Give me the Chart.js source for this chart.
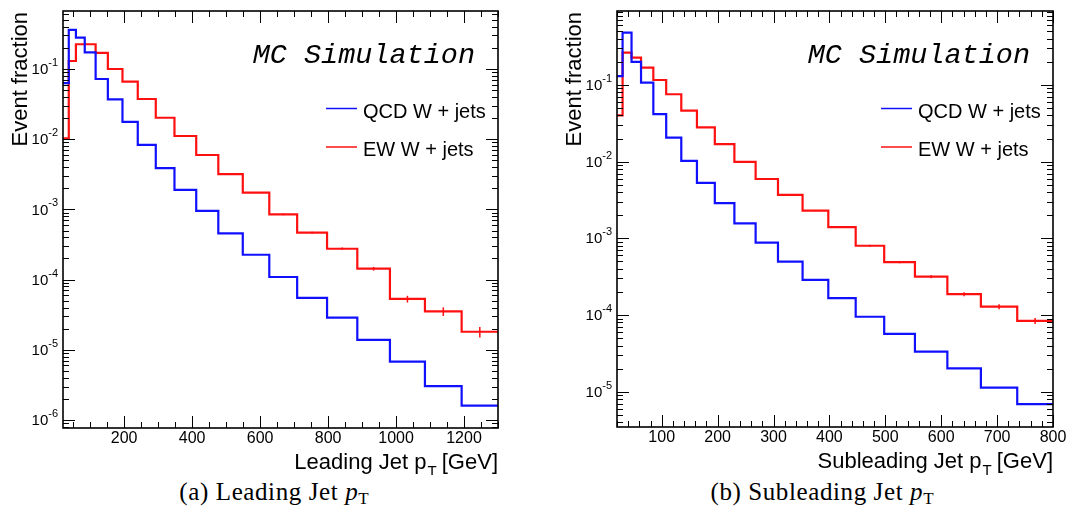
<!DOCTYPE html>
<html>
<head>
<meta charset="utf-8">
<script src="https://cdn.jsdelivr.net/npm/chart.js@4.4.1/dist/chart.umd.min.js"></script>
<style>
  body { margin: 0; background: #fff; }
  #page { position: relative; width: 1068px; height: 523px; overflow: hidden; }
  .panel { position: absolute; top: 0; }
  .caption { position: absolute; top: 478px; width: 400px; text-align: center;
             font-family: "Liberation Serif", "Times New Roman", serif; font-size: 25px;
             letter-spacing: 0.6px; color: #000; }
  .caption sub { font-size: 17px; vertical-align: -4px; letter-spacing: 0; }
</style>
</head>
<body>
<div id="page">
  <canvas id="leadChart" class="panel" style="left:0" width="534" height="475"></canvas>
  <canvas id="subChart" class="panel" style="left:534px" width="534" height="475"></canvas>
  <div class="caption" style="left:74px">(a) Leading Jet <i>p</i><sub>T</sub></div>
  <div class="caption" style="left:622px">(b) Subleading Jet <i>p</i><sub>T</sub></div>
</div>
<script>
// Leading jet pT: bin edges [GeV] and event fractions per bin
const leadEdges = [20, 37, 58, 84, 116, 152, 195, 240, 293, 348, 412, 477, 549, 627, 709, 797, 886, 982, 1085, 1193, 1300];
const leadQCD = [0.063, 0.36, 0.28, 0.173, 0.072, 0.037, 0.0176, 0.0083, 0.00388, 0.0019, 0.00095, 0.000456, 0.000226, 0.000109, 5.5e-5, 2.87e-5, 1.39e-5, 6.8e-6, 3.05e-6, 1.6e-6];
const leadEW = [0.0103, 0.13, 0.225, 0.225, 0.17, 0.1, 0.066, 0.0374, 0.0202, 0.0111, 0.00596, 0.00319, 0.00173, 0.00085, 0.000466, 0.000275, 0.000143, 5.3e-5, 3.53e-5, 1.81e-5];
const leadEWErr = [0, 0, 0, 0, 0, 0, 0, 0, 0, 0, 0.01, 0.015, 0.02, 0.03, 0.035, 0.04, 0.06, 0.11, 0.14, 0.17];
const leadTicks = [200, 400, 600, 800, 1000, 1200];

// Subleading jet pT
const subEdges = [20, 30, 46, 63, 85, 108, 135, 163, 195, 230, 268, 308, 352, 398, 447, 498, 553, 611, 671, 736, 800];
const subQCD = [0.13, 0.48, 0.2, 0.107, 0.0415, 0.0206, 0.0102, 0.0053, 0.00287, 0.00157, 0.00088, 0.000497, 0.000287, 0.000166, 9.5e-5, 5.67e-5, 3.33e-5, 2.02e-5, 1.13e-5, 6.9e-6];
const subEW = [0.04, 0.264, 0.227, 0.168, 0.116, 0.0756, 0.0463, 0.028, 0.0169, 0.0099, 0.00594, 0.00368, 0.0023, 0.0014, 0.0008, 0.00049, 0.000317, 0.000187, 0.000129, 8.4e-5];
const subEWErr = [0, 0, 0, 0, 0, 0, 0, 0, 0, 0, 0.01, 0.015, 0.02, 0.025, 0.03, 0.035, 0.045, 0.06, 0.075, 0.09];
const subTicks = [100, 200, 300, 400, 500, 600, 700, 800];

const seriesNames = ['QCD W + jets', 'EW W + jets'];
const blue = '#1010ff';
const red = '#ff1010';

// turn bin contents into step points (left edge of each bin, plus last right edge)
function histPoints(edges, vals) {
    const pts = [];
    for (let i = 0; i < vals.length; i++) {
        pts.push({x: edges[i], y: vals[i]});
    }
    pts.push({x: edges[edges.length - 1], y: vals[vals.length - 1]});
    return pts;
}

function line(ctx, x1, y1, x2, y2) {
    ctx.beginPath();
    ctx.moveTo(x1, y1);
    ctx.lineTo(x2, y2);
    ctx.stroke();
}

// ROOT-style frame, inward ticks, labels, titles and legend
const rootFrame = {
    id: 'rootFrame',
    afterDatasetsDraw(chart, args, opt) {
        const ctx = chart.ctx;
        const a = chart.chartArea;
        const xs = chart.scales.x, ys = chart.scales.y;
        ctx.save();

        // error bars on EW histogram
        ctx.strokeStyle = red;
        ctx.lineWidth = 1.5;
        opt.errs.forEach((e, i) => {
            if (!e) return;
            const c = (opt.edges[i] + opt.edges[i + 1]) / 2;
            const v = opt.ew[i];
            const px = xs.getPixelForValue(c);
            line(ctx, px, ys.getPixelForValue(v * (1 - e)), px, ys.getPixelForValue(v * (1 + e)));
        });

        ctx.strokeStyle = '#000';
        ctx.fillStyle = '#000';
        ctx.lineWidth = 1;

        // x ticks (bottom and top)
        for (let v = opt.minorStep; v <= xs.max + 0.01; v += opt.minorStep) {
            if (v < xs.min) continue;
            const px = Math.round(xs.getPixelForValue(v)) + 0.5;
            const len = opt.ticks.includes(v) ? 12 : 6;
            line(ctx, px, a.bottom, px, a.bottom - len);
            line(ctx, px, a.top, px, a.top + len);
        }
        // y ticks, log decades
        const d0 = Math.floor(Math.log10(ys.min)), d1 = Math.ceil(Math.log10(ys.max));
        for (let d = d0; d <= d1; d++) {
            for (let m = 1; m <= 9; m++) {
                const v = m * Math.pow(10, d);
                if (v < ys.min || v > ys.max) continue;
                const py = Math.round(ys.getPixelForValue(v)) + 0.5;
                const len = m === 1 ? 12 : 6;
                line(ctx, a.left, py, a.left + len, py);
                line(ctx, a.right, py, a.right - len, py);
            }
        }

        // frame
        ctx.lineWidth = 1.6;
        ctx.strokeRect(a.left, a.top, a.right - a.left, a.bottom - a.top);

        // x tick labels
        ctx.font = '16px "Liberation Sans", Arial, sans-serif';
        ctx.textAlign = 'center';
        ctx.textBaseline = 'top';
        opt.ticks.forEach(v => {
            ctx.fillText(String(v), xs.getPixelForValue(v), a.bottom + 3);
        });

        // y tick labels 10^n
        ctx.textBaseline = 'middle';
        for (let d = d0; d <= d1; d++) {
            const v = Math.pow(10, d);
            if (v < ys.min || v > ys.max) continue;
            const py = ys.getPixelForValue(v);
            ctx.font = '11px "Liberation Sans", Arial, sans-serif';
            ctx.textAlign = 'right';
            const sup = String(d);
            const supW = ctx.measureText(sup).width;
            ctx.fillText(sup, a.left - 5, py - 6);
            ctx.font = '15px "Liberation Sans", Arial, sans-serif';
            ctx.fillText('10', a.left - 5 - supW, py + 1);
        }

        // x axis title with subscript, right aligned
        ctx.textBaseline = 'alphabetic';
        ctx.textAlign = 'left';
        const big = '22px "Liberation Sans", Arial, sans-serif';
        const small = '15px "Liberation Sans", Arial, sans-serif';
        ctx.font = big;
        const w1 = ctx.measureText(opt.xTitle).width;
        const w3 = ctx.measureText(' [GeV]').width;
        ctx.font = small;
        const w2 = ctx.measureText('T').width;
        let tx = a.right - w1 - w2 - w3;
        const ty = a.bottom + 41;
        ctx.font = big;
        ctx.fillText(opt.xTitle, tx, ty);
        ctx.font = small;
        ctx.fillText('T', tx + w1 + 1, ty + 7);
        ctx.font = big;
        ctx.fillText(' [GeV]', tx + w1 + w2, ty);

        // y axis title
        ctx.save();
        ctx.translate(a.left - 36, a.top + 1);
        ctx.rotate(-Math.PI / 2);
        ctx.textAlign = 'right';
        ctx.font = big;
        ctx.fillText('Event fraction', 0, 0);
        ctx.restore();

        // MC Simulation
        ctx.textAlign = 'right';
        ctx.font = 'italic 28.5px "Liberation Mono", "Courier New", monospace';
        ctx.fillText('MC Simulation', a.right - 23, a.top + 52);

        // legend
        ctx.font = '20px "Liberation Sans", Arial, sans-serif';
        ctx.textAlign = 'left';
        chart.data.datasets.forEach((ds, i) => {
            const ly = a.top + 97.5 + i * 38.5;
            ctx.strokeStyle = ds.borderColor;
            ctx.lineWidth = 1.5;
            line(ctx, a.right - 172, ly, a.right - 141, ly);
            ctx.fillText(ds.label, a.right - 135, ly + 9);
        });
        ctx.restore();
    }
};

function makeChart(id, edges, qcd, ew, errs, ticks, xmin, xmax, ymin, ymax, minorStep, xTitle, pad) {
    const ctx = document.getElementById(id).getContext('2d');
    return new Chart(ctx, {
        type: 'line',
        data: {
            datasets: [
                {label: seriesNames[0], data: histPoints(edges, qcd), borderColor: blue,
                 borderWidth: 2.2, stepped: true, pointRadius: 0, fill: false},
                {label: seriesNames[1], data: histPoints(edges, ew), borderColor: red,
                 borderWidth: 2.2, stepped: true, pointRadius: 0, fill: false}
            ]
        },
        options: {
            responsive: false,
            animation: false,
            devicePixelRatio: 1,
            layout: {padding: pad},
            scales: {
                x: {type: 'linear', min: xmin, max: xmax, display: false},
                y: {type: 'logarithmic', min: ymin, max: ymax, display: false}
            },
            plugins: {
                legend: {display: false},
                tooltip: {enabled: false},
                rootFrame: {edges: edges, ew: ew, errs: errs, ticks: ticks,
                            minorStep: minorStep, xTitle: xTitle}
            }
        },
        plugins: [rootFrame]
    });
}

makeChart('leadChart', leadEdges, leadQCD, leadEW, leadEWErr, leadTicks,
          20, 1300, 7.7e-7, 0.67, 50, 'Leading Jet p',
          {left: 63, top: 11, right: 36, bottom: 47});
makeChart('subChart', subEdges, subQCD, subEW, subEWErr, subTicks,
          20, 800, 3.47e-6, 0.92, 20, 'Subleading Jet p',
          {left: 83, top: 11, right: 15, bottom: 48});
</script>
</body>
</html>
